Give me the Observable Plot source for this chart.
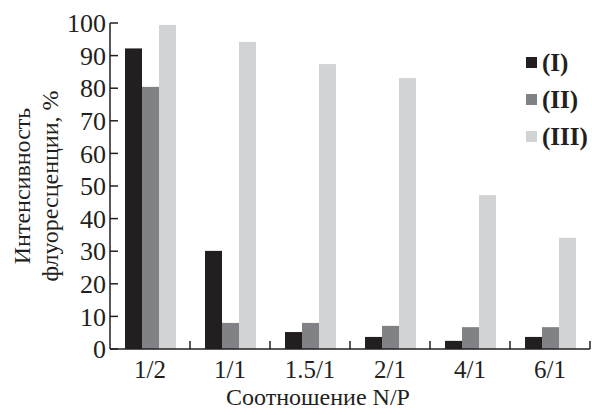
<!DOCTYPE html>
<html>
<head>
<meta charset="utf-8">
<script src="https://cdn.jsdelivr.net/npm/d3@7"></script>
<script src="https://cdn.jsdelivr.net/npm/@observablehq/plot@0.6"></script>
<style>
  html, body { margin: 0; padding: 0; background: #ffffff; }
  #wrap { position: relative; width: 592px; height: 415px; }
  #legend { position: absolute; left: 526px; top: 44px; font-family: "Liberation Serif", serif; font-weight: bold; font-size: 25px; color: #231f20; }
  #legend .row { display: flex; align-items: center; height: 37px; }
  #legend .sw { width: 11px; height: 11px; margin-right: 5px; }
</style>
</head>
<body>
<div id="wrap"></div>
<script>
const categories = ["1/2", "1/1", "1.5/1", "2/1", "4/1", "6/1"];
const seriesNames = ["(I)", "(II)", "(III)"];
const seriesI = [92.2, 30.1, 5.2, 3.7, 2.5, 3.7];
const seriesII = [80.4, 8.0, 8.0, 7.1, 6.7, 6.7];
const seriesIII = [99.4, 94.2, 87.4, 83.1, 47.2, 34.1];
const colors = ["#231f20", "#808285", "#d1d3d4"];
const yTicks = [0, 10, 20, 30, 40, 50, 60, 70, 80, 90, 100];
const yLabelLines = ["Интенсивность", "флуоресценции, %"];
const xLabel = "Соотношение N/P";

const seriesValues = [seriesI, seriesII, seriesIII];
const data = [];
categories.forEach((c, i) => {
  seriesNames.forEach((s, j) => data.push({cat: c, series: s, value: seriesValues[j][i]}));
});

const ink = "#231f20";
const font = "Liberation Serif, serif";
const padInner = 0.35;
const chart = Plot.plot({
  width: 592,
  height: 415,
  marginLeft: 110,
  marginRight: 2,
  marginTop: 23,
  marginBottom: 66,
  style: {fontFamily: font, color: ink, background: "white", overflow: "visible"},
  fx: {domain: categories, paddingInner: padInner, paddingOuter: padInner / 2, axis: null},
  x: {domain: seriesNames, padding: 0, axis: null},
  y: {domain: [0, 100], ticks: yTicks, axis: null},
  color: {domain: seriesNames, range: colors},
  marks: [
    Plot.barY(data, {fx: "cat", x: "series", y: "value", fill: "series"})
  ]
});
const wrap = document.getElementById("wrap");
wrap.appendChild(chart);

// Axes drawn from Plot's own scales
const fx = chart.scale("fx");
const y = chart.scale("y");
const bw = fx.bandwidth;
const step = fx.step || bw / (1 - padInner);
const x0 = fx.range[0], x1 = fx.range[1];
const y0 = y.apply(0), yTop = y.apply(100);
const svg = d3.select(chart);
const g = svg.append("g").attr("fill", "none").attr("stroke", ink).attr("stroke-width", 1.5);
// axis lines
g.append("line").attr("x1", x0).attr("x2", x0).attr("y1", y0).attr("y2", yTop);
g.append("line").attr("x1", x0).attr("x2", x1).attr("y1", y0).attr("y2", y0);
// inward y ticks
g.selectAll(".yt").data(yTicks).join("line")
  .attr("x1", x0).attr("x2", x0 + 8)
  .attr("y1", d => y.apply(d)).attr("y2", d => y.apply(d));
// category boundary ticks
g.selectAll(".xt").data(categories).join("line")
  .attr("x1", d => fx.apply(d) + bw + (step - bw) / 2)
  .attr("x2", d => fx.apply(d) + bw + (step - bw) / 2)
  .attr("y1", y0).attr("y2", y0 - 8);

const t = svg.append("g").attr("fill", ink).attr("font-family", font).attr("stroke", "none");
t.selectAll(".yl").data(yTicks).join("text")
  .attr("x", x0 - 4).attr("y", d => y.apply(d)).attr("dy", "0.35em")
  .attr("text-anchor", "end").attr("font-size", 26).text(d => d);
t.selectAll(".xl").data(categories).join("text")
  .attr("x", d => fx.apply(d) + bw / 2).attr("y", y0 + 20).attr("dy", "0.35em")
  .attr("text-anchor", "middle").attr("font-size", 25).text(d => d);
t.append("text")
  .attr("x", (x0 + x1) / 2 - 32).attr("y", y0 + 48).attr("dy", "0.35em")
  .attr("text-anchor", "middle").attr("font-size", 24).text(xLabel);
const yl = t.append("text")
  .attr("transform", `translate(22,${(y0 + yTop) / 2}) rotate(-90)`)
  .attr("text-anchor", "middle").attr("font-size", 24);
yLabelLines.forEach((line, i) => {
  yl.append("tspan").attr("x", 0).attr("y", i * 28).attr("dy", "0.35em").text(line);
});

const legend = document.createElement("div");
legend.id = "legend";
seriesNames.forEach((s, j) => {
  const row = document.createElement("div");
  row.className = "row";
  const sw = document.createElement("span");
  sw.className = "sw";
  sw.style.background = colors[j];
  const tx = document.createElement("span");
  tx.textContent = s;
  row.appendChild(sw);
  row.appendChild(tx);
  legend.appendChild(row);
});
wrap.appendChild(legend);
</script>
</body>
</html>
